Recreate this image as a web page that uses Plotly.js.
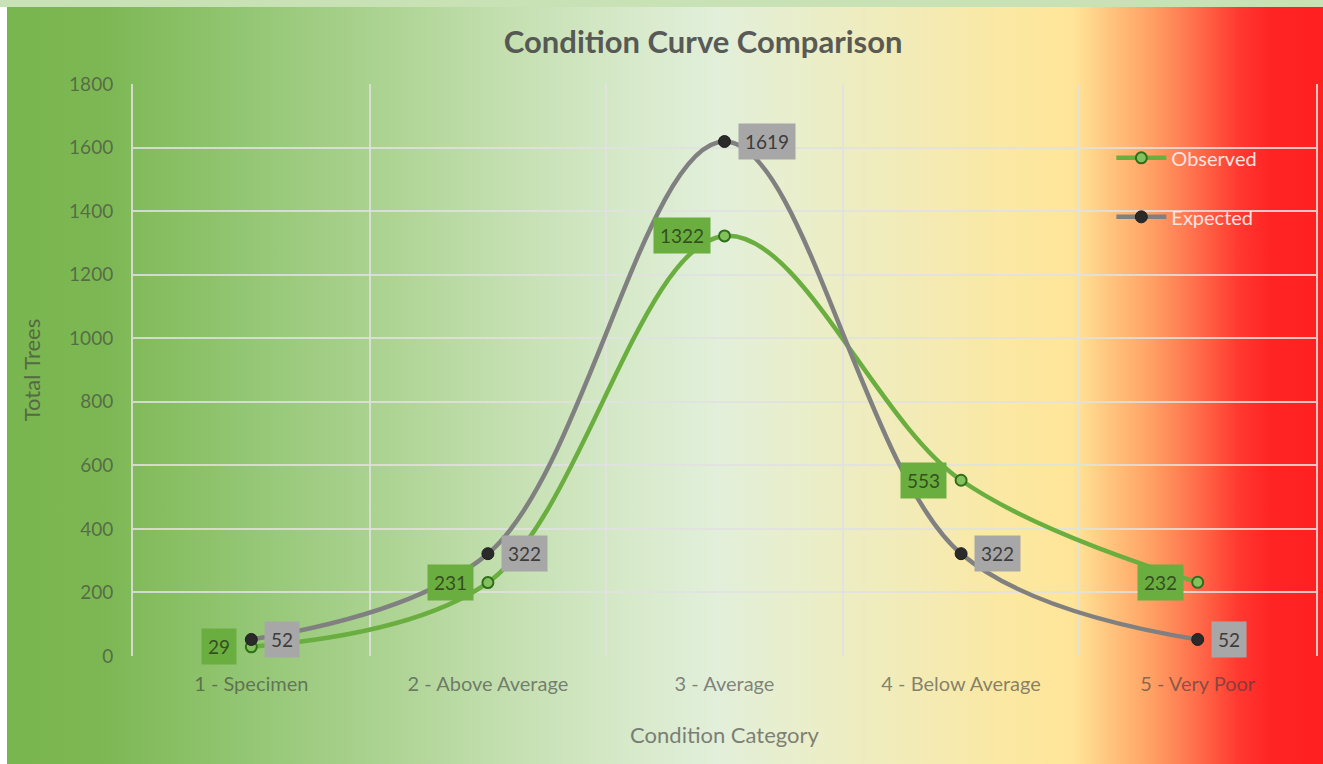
<!DOCTYPE html>
<html>
<head>
<meta charset="utf-8">
<script src="https://cdn.plot.ly/plotly-3.0.1.min.js"></script>
<style>
  html, body { margin: 0; padding: 0; width: 1323px; height: 764px; overflow: hidden; background: #ffffff; }
  #topstrip { position: absolute; left: 0; top: 0; width: 1323px; height: 7px; background: #c8e2b6; }
  #bg { position: absolute; left: 7px; top: 7px; width: 1316px; height: 757px;
    background: linear-gradient(to right,
      #7ab64f 0%, #7cb753 7%, #93c673 18%, #a8d18d 27%, #c4dfb0 38%,
      #d6e9c9 47%, #e2efda 54%, #eaeec9 61%, #f3ebb6 69%, #fbe8a2 76%, #ffe598 81%,
      #ffc27c 84%, #ffa064 87%, #ff6c4a 90.5%, #ff3a30 93.5%, #ff2424 96%, #ff2020 100%); }
  #chart { position: absolute; left: 0; top: 0; width: 1323px; height: 764px; }
</style>
</head>
<body>
<div id="topstrip"></div>
<div id="bg"></div>
<div id="chart"></div>
<script>
const categories = ["1 - Specimen", "2 - Above Average", "3 - Average", "4 - Below Average", "5 - Very Poor"];
const observed = [29, 231, 1322, 553, 232];
const expected = [52, 322, 1619, 322, 52];
const yTicks = [0, 200, 400, 600, 800, 1000, 1200, 1400, 1600, 1800];

const FONT = "Lato, 'Open Sans', sans-serif";
const textCol = "rgba(60,60,60,0.62)";
const gridCol = "rgba(225,225,225,0.85)";

const traces = [
  {
    x: categories, y: observed, name: "Observed", type: "scatter", mode: "lines+markers",
    line: { color: "#6aae3f", width: 4.5, shape: "spline", smoothing: 1 },
    marker: { symbol: "circle", size: 11, color: "#84c05c", line: { color: "#2f6e1c", width: 2 } },
    legendgroup: "a"
  },
  {
    x: categories, y: expected, name: "Expected", type: "scatter", mode: "lines+markers",
    line: { color: "#808080", width: 4.5, shape: "spline", smoothing: 1 },
    marker: { symbol: "circle", size: 12, color: "#2a2a2a", line: { color: "#1e1e1e", width: 1 } },
    legendgroup: "b"
  }
];

const annotations = [];
observed.forEach((v, i) => annotations.push({
  x: categories[i], y: v, xref: "x", yref: "y", text: String(v), showarrow: false,
  xanchor: "right", yanchor: "middle", xshift: -14,
  bgcolor: "#6aae3f", borderpad: 6,
  font: { family: FONT, size: 19, color: "#34501f" }
}));
expected.forEach((v, i) => annotations.push({
  x: categories[i], y: v, xref: "x", yref: "y", text: String(v), showarrow: false,
  xanchor: "left", yanchor: "middle", xshift: 13,
  bgcolor: "#a7a7a7", borderpad: 6,
  font: { family: FONT, size: 19, color: "#3c3c3c" }
}));

const layout = {
  width: 1323, height: 764,
  margin: { l: 133, r: 7, t: 84, b: 108 },
  paper_bgcolor: "rgba(0,0,0,0)", plot_bgcolor: "rgba(0,0,0,0)",
  font: { family: FONT, color: textCol },
  title: {
    text: "<b>Condition Curve Comparison</b>",
    font: { family: FONT, size: 31, color: "rgba(70,70,70,0.88)" },
    x: 0.482, xref: "paper", xanchor: "center", y: 0.945, yanchor: "middle"
  },
  xaxis: {
    type: "category", tickson: "boundaries", range: [-0.5, 4.5], autorange: false,
    showgrid: true, gridcolor: gridCol, gridwidth: 2,
    showline: false, zeroline: false,
    ticks: "", ticklabelstandoff: 14,
    tickfont: { family: FONT, size: 20, color: textCol },
    title: { text: "Condition Category", font: { family: FONT, size: 22, color: textCol }, standoff: 33 }
  },
  yaxis: {
    range: [0, 1800], autorange: false, tickvals: yTicks,
    showgrid: true, gridcolor: gridCol, gridwidth: 2,
    zeroline: false, showline: true, mirror: true, linecolor: gridCol, linewidth: 2,
    ticks: "", ticklabelstandoff: 14,
    tickfont: { family: FONT, size: 19, color: textCol },
    title: { text: "Total Trees", font: { family: FONT, size: 22, color: textCol }, standoff: 22 }
  },
  legend: {
    x: 0.827, xanchor: "left", y: 0.905, yanchor: "top",
    bgcolor: "rgba(0,0,0,0)", borderwidth: 0,
    font: { family: FONT, size: 20, color: "#fde3e0" },
    tracegroupgap: 30, itemwidth: 50
  },
  showlegend: true,
  annotations: annotations
};

Plotly.newPlot("chart", traces, layout, { displayModeBar: false, staticPlot: true });
</script>
</body>
</html>
